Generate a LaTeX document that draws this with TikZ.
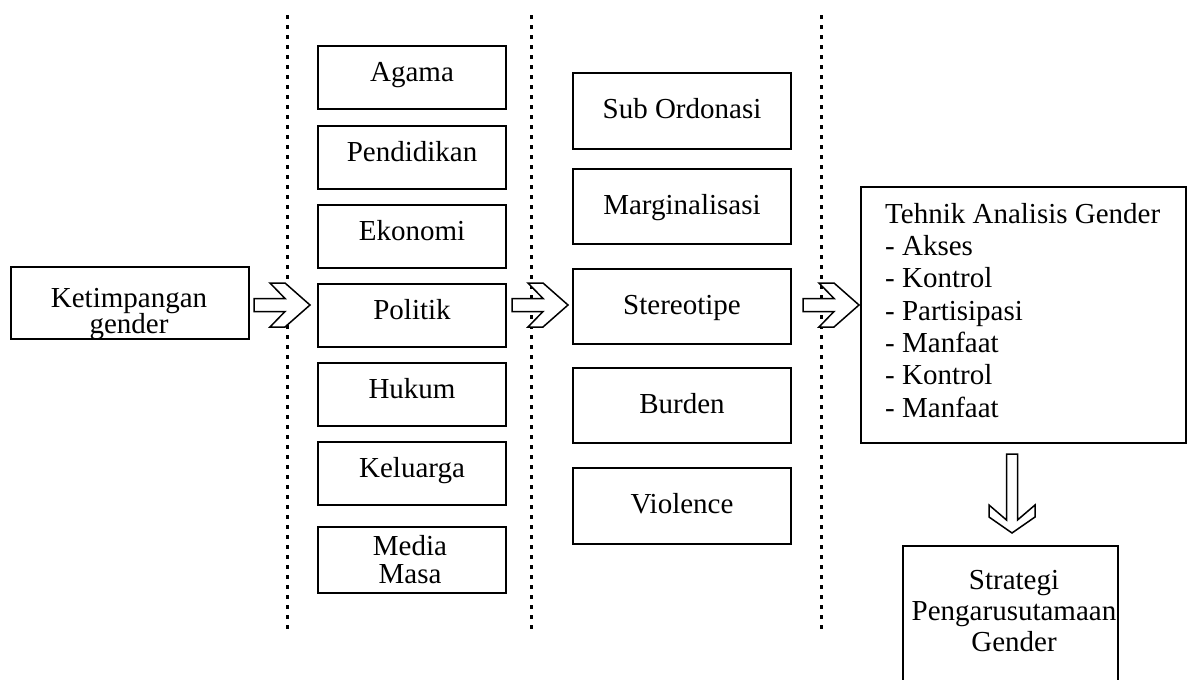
\documentclass[tikz,border=0pt]{standalone}
\usepackage{fontspec}
\setmainfont{Liberation Serif}
\begin{document}
\begin{tikzpicture}[x=1pt,y=-1pt,
  box/.style={draw, line width=2pt, inner sep=0pt, anchor=north west, font=\fontsize{29}{32}\selectfont},
  colA/.style={box, minimum width=188pt, minimum height=63pt, text height=20pt, text depth=13pt},
  colB/.style={box, minimum width=218pt, minimum height=75pt, text height=20pt, text depth=5pt},
  txt/.style={inner sep=0pt},
  sepline/.style={line width=3pt, dash pattern=on 3.5pt off 6.5pt},
  blockarrow/.style={draw, line width=1.5pt, fill=white, line join=miter},
  pics/rarrow/.style={code={\draw[blockarrow] (-56,-6.5) -- (-25,-6.5) -- (-40,-22) -- (-25,-22) -- (0,0) -- (-25,22) -- (-40,22) -- (-25,6.5) -- (-56,6.5) -- cycle;}},
  pics/darrow/.style={code={\draw[blockarrow] (-5.5,-79) -- (-5.5,-13) -- (-23,-28) -- (-23,-16) -- (0,0) -- (23,-16) -- (23,-28) -- (5.5,-13) -- (5.5,-79) -- cycle;}},
]
\useasboundingbox (0,0) rectangle (1187,680);
\fill[white] (0,0) rectangle (1187,680);
\clip (0,0) rectangle (1187,680);

% dotted separators
\coordinate (s1t) at (287,15); \coordinate (s1b) at (287,630);
\coordinate (s2t) at (531,15); \coordinate (s2b) at (531,630);
\coordinate (s3t) at (821,15); \coordinate (s3b) at (821,630);
\draw[sepline] (s1t) -- (s1b);
\draw[sepline] (s2t) -- (s2b);
\draw[sepline] (s3t) -- (s3b);

% left box
\node[box, minimum width=238pt, minimum height=72pt] (ket) at (10,266) {};
\node[txt, align=center, font=\fontsize{29}{26.5}\selectfont] (ketT) at (129,314.2) {Ketimpangan\\gender};

% column 1
\node[colA] (agama) at (317,45) {Agama};
\node[colA] (pend) at (317,125) {Pendidikan};
\node[colA] (eko) at (317,204) {Ekonomi};
\node[colA] (pol) at (317,283) {Politik};
\node[colA] (huk) at (317,362) {Hukum};
\node[colA] (kel) at (317,441) {Keluarga};
\node[box, minimum width=188pt, minimum height=66pt] (media) at (317,526) {};
\node[txt, align=center, font=\fontsize{29}{28}\selectfont] (mediaT) at (410,559.1) {Media\\Masa};

% column 2
\node[colB, minimum height=76pt] (sub) at (572,72) {Sub Ordonasi};
\node[colB] (marg) at (572,168) {Marginalisasi};
\node[colB] (ster) at (572,268) {Stereotipe};
\node[colB] (burd) at (572,367) {Burden};
\node[colB, minimum height=76pt] (viol) at (572,467) {Violence};

% right box
\node[box, minimum width=325pt, minimum height=256pt] (tek) at (860,186) {};
\node[txt, align=left, anchor=west, font=\fontsize{29}{32.33}\selectfont] (tekT) at (885,310.1)
  {Tehnik Analisis Gender\\- Akses\\- Kontrol\\- Partisipasi\\- Manfaat\\- Kontrol\\- Manfaat};

% strategy box
\node[box, minimum width=215pt, minimum height=160pt] (str) at (902,545) {};
\node[txt, align=center, font=\fontsize{29}{31}\selectfont] (strT) at (1014,611.1) {Strategi\\Pengarusutamaan\\Gender};

% block arrows
\pic (a1) at (310,305) {rarrow};
\pic (a2) at (568,305) {rarrow};
\pic (a3) at (859,305) {rarrow};
\pic (a4) at (1012,533) {darrow};
\end{tikzpicture}
\end{document}
